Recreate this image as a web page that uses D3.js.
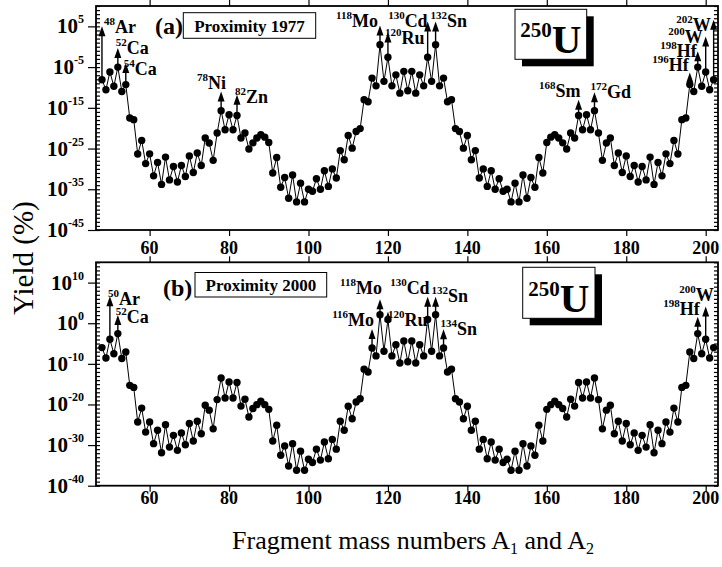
<!DOCTYPE html>
<html>
<head>
<meta charset="utf-8">
<script src="https://cdn.jsdelivr.net/npm/d3@7"></script>
<style>
  body { margin: 0; background: #fff; }
  text { font-family: "Liberation Serif", "Times New Roman", serif; }
</style>
</head>
<body>
<svg id="chart" width="722" height="567"></svg>
<script>
// fragment mass numbers A1 and A2 (every integer from 48 to 202)
var massNumbers = d3.range(48, 203);

// log10 of the yield (%) for each mass number
var logYield1977 = [
  -8.1, -10.55, -6.2, -9.7, -5.0, -11.0, -9.3, -17.5, -17.9, -26.35,
  -23.0, -28.7, -26.3, -31.7, -28.4, -33.8, -27.1, -32.7, -29.4, -33.2,
  -29.15, -31.85, -26.8, -30.9, -26.1, -29.15, -22.4, -23.65, -27.9, -21.2,
  -15.7, -20.4, -16.7, -20.4, -16.9, -22.4, -21.2, -25.1, -23.6, -22.4,
  -21.6, -22.2, -23.5, -31.0, -27.2, -34.5, -32.1, -37.2, -31.5, -38.1,
  -33.5, -38.1, -35.0, -35.5, -32.4, -35.0, -30.45, -34.3, -30.0, -32.25,
  -25.5, -27.75, -21.8, -24.9, -20.8, -20.1, -13.0, -13.5, -7.7, -9.6,
  0.5, -8.5, -2.6, -9.6, -6.9, -11.4, -6.05, -10.8, -6.05, -11.4,
  -6.9, -9.6, -2.6, -8.5, 0.5, -9.6, -7.7, -13.5, -13.0, -20.1,
  -20.8, -24.9, -21.8, -27.75, -25.5, -32.25, -30.0, -34.3, -30.45, -35.0,
  -32.4, -35.5, -35.0, -38.1, -33.5, -38.1, -31.5, -37.2, -32.1, -34.5,
  -27.2, -31.0, -23.5, -22.2, -21.6, -22.4, -23.6, -25.1, -21.2, -22.4,
  -16.9, -20.4, -16.7, -20.4, -15.7, -21.2, -27.9, -23.65, -22.4, -29.15,
  -26.1, -30.9, -26.8, -31.85, -29.15, -33.2, -29.4, -32.7, -27.1, -33.8,
  -28.4, -31.7, -26.3, -28.7, -23.0, -26.35, -17.9, -17.5, -9.3, -11.0,
  -5.0, -9.7, -6.2, -10.55, -8.1
];

var logYield2000 = [
  -6.0, -8.55, -3.95, -7.5, -2.55, -8.7, -7.1, -15.3, -15.8, -24.3,
  -20.9, -26.8, -24.3, -29.65, -26.35, -31.9, -25.0, -30.5, -27.6, -31.3,
  -27.0, -29.9, -24.7, -29.0, -24.15, -27.2, -20.2, -21.4, -26.0, -18.8,
  -13.5, -18.4, -14.45, -18.4, -14.6, -20.4, -18.7, -23.1, -21.0, -20.05,
  -19.2, -20.05, -21.2, -29.0, -25.1, -32.5, -30.2, -35.15, -29.65, -36.2,
  -31.5, -36.2, -33.5, -34.3, -31.0, -33.7, -29.25, -33.35, -28.6, -31.0,
  -24.15, -26.35, -20.45, -23.5, -19.4, -18.6, -11.3, -12.0, -6.1, -8.05,
  2.1, -6.9, 0.9, -8.05, -5.3, -9.8, -4.35, -9.5, -4.35, -9.8,
  -5.3, -8.05, 0.9, -6.9, 2.1, -8.05, -6.1, -12.0, -11.3, -18.6,
  -19.4, -23.5, -20.45, -26.35, -24.15, -31.0, -28.6, -33.35, -29.25, -33.7,
  -31.0, -34.3, -33.5, -36.2, -31.5, -36.2, -29.65, -35.15, -30.2, -32.5,
  -25.1, -29.0, -21.2, -20.05, -19.2, -20.05, -21.0, -23.1, -18.7, -20.4,
  -14.6, -18.4, -14.45, -18.4, -13.5, -18.8, -26.0, -21.4, -20.2, -27.2,
  -24.15, -29.0, -24.7, -29.9, -27.0, -31.3, -27.6, -30.5, -25.0, -31.9,
  -26.35, -29.65, -24.3, -26.8, -20.9, -24.3, -15.8, -15.3, -7.1, -8.7,
  -2.55, -7.5, -3.95, -8.55, -6.0
];

var xTickValues = [60, 80, 100, 120, 140, 160, 180, 200];
var yTickExp1977 = [5, -5, -15, -25, -35, -45];
var yTickExp2000 = [10, 0, -10, -20, -30, -40];

// marked fragments: mass number, symbol, arrow tip (log10 yield)
var peaks1977 = [
  {a: 48, el: 'Ar', tip: 5}, {a: 52, el: 'Ca', tip: -0.3}, {a: 54, el: 'Ca', tip: -4},
  {a: 78, el: 'Ni', tip: -11}, {a: 82, el: 'Zn', tip: -11.8},
  {a: 118, el: 'Mo', tip: 5.2}, {a: 120, el: 'Ru', tip: 3.5},
  {a: 130, el: 'Cd', tip: 6.2}, {a: 132, el: 'Sn', tip: 6.2},
  {a: 168, el: 'Sm', tip: -13}, {a: 172, el: 'Gd', tip: -11.2},
  {a: 196, el: 'Hf', tip: -6.3}, {a: 198, el: 'Hf', tip: -1.1},
  {a: 200, el: 'W', tip: 2.5}, {a: 202, el: 'W', tip: 6.6}
];
var peaks2000 = [
  {a: 50, el: 'Ar', tip: 6.65}, {a: 52, el: 'Ca', tip: 2.0},
  {a: 116, el: 'Mo', tip: -1.4}, {a: 118, el: 'Mo', tip: 5.9}, {a: 120, el: 'Ru', tip: 2.8},
  {a: 130, el: 'Cd', tip: 6.5}, {a: 132, el: 'Sn', tip: 6.5}, {a: 134, el: 'Sn', tip: -1.5},
  {a: 198, el: 'Hf', tip: 1.6}, {a: 200, el: 'W', tip: 4.1}
];

// where each label sits relative to its arrow tip: [anchor, dx, dy]
var labelPlace1977 = {
  48: ['start', 2, 7], 52: ['start', -2, 6], 54: ['start', -2, 12],
  78: ['end', 5, -3], 82: ['start', -2, 8], 118: ['end', -2, 1], 120: ['start', -3, 12],
  130: ['end', 0, 6], 132: ['start', -5, 6], 168: ['end', 2, -3], 172: ['start', -4, 6],
  196: ['end', -1, -1], 198: ['end', -1, 6], 200: ['end', -3, 6], 202: ['end', -3, 11]
};
var labelPlace2000 = {
  50: ['start', -2, 9], 52: ['start', -2, 8], 116: ['end', 2, -3], 118: ['end', 2, -5],
  120: ['start', 0, 14], 130: ['end', 2, -3], 132: ['start', -4, 5], 134: ['start', -3, 6],
  198: ['end', 2, -2], 200: ['end', 8, -6]
};

var svg = d3.select('#chart');
var left = 96, right = 718;
var x = d3.scaleLinear().domain([46.5, 203.1]).range([left, right]);

var panels = [
  {exps: logYield1977, ticks: yTickExp1977, lo: -45, hi: 10, top: 6, bottom: 230, xLabelY: 253.5,
   peaks: peaks1977, place: labelPlace1977, tag: '(a)', tagX: 155, tagY: 34,
   box: [183.3, 12.7, 132.4, 25.6], boxText: 'Proximity 1977',
   nuc: [515, 9.3, 71.7, 50]},
  {exps: logYield2000, ticks: yTickExp2000, lo: -40, hi: 15, top: 262.3, bottom: 485.7, xLabelY: 503.5,
   peaks: peaks2000, place: labelPlace2000, tag: '(b)', tagX: 163, tagY: 296,
   box: [195, 272.5, 131.7, 24.5], boxText: 'Proximity 2000',
   nuc: [522.7, 267.3, 72.3, 51]}
];

panels.forEach(drawPanel);

function drawPanel(p){
  var y = d3.scaleLog().domain([Math.pow(10, p.lo), Math.pow(10, p.hi)]).range([p.bottom, p.top]);
  var g = svg.append('g');
  var decades = d3.range(p.lo, p.hi + 1).map(function(e){ return Math.pow(10, e); });
  var majors = p.ticks.map(function(e){ return Math.pow(10, e); });

  // minor ticks, one per decade, pointing inward on both sides
  g.append('g').attr('transform', 'translate(' + left + ',0)')
    .call(d3.axisLeft(y).tickValues(decades).tickSize(-4).tickFormat(''));
  g.append('g').attr('transform', 'translate(' + right + ',0)')
    .call(d3.axisRight(y).tickValues(decades).tickSize(-4).tickFormat(''));
  // major ticks outward
  g.append('g').attr('transform', 'translate(' + left + ',0)')
    .call(d3.axisLeft(y).tickValues(majors).tickSize(8).tickFormat(''));
  g.append('g').attr('transform', 'translate(0,' + p.bottom + ')')
    .call(d3.axisBottom(x).tickValues(xTickValues).tickSize(6).tickFormat(''));
  g.append('g').attr('transform', 'translate(0,' + p.top + ')')
    .call(d3.axisTop(x).tickValues(xTickValues).tickSize(6).tickFormat(''));
  g.selectAll('.domain').remove();
  g.selectAll('.tick line').attr('stroke', '#000').attr('stroke-width', 1.2);

  // frame
  g.append('rect').attr('x', left).attr('y', p.top)
    .attr('width', right - left).attr('height', p.bottom - p.top)
    .attr('fill', 'none').attr('stroke', '#000').attr('stroke-width', 1.8);

  // y tick labels 10^n
  var yl = g.selectAll('.ylab').data(p.ticks).enter().append('text')
    .attr('x', 84).attr('y', function(d){ return y(Math.pow(10, d)) + 7; })
    .attr('text-anchor', 'end').attr('font-weight', 'bold');
  yl.append('tspan').attr('font-size', 21).text('10');
  yl.append('tspan').attr('font-size', 12).attr('dy', -10).text(function(d){ return d; });

  // x tick labels
  g.selectAll('.xlab').data(xTickValues).enter().append('text')
    .attr('x', function(d){ return x(d); }).attr('y', p.xLabelY)
    .attr('text-anchor', 'middle').attr('font-weight', 'bold').attr('font-size', 18)
    .text(function(d){ return d; });

  // data
  var pts = massNumbers.map(function(a, i){ return [a, Math.pow(10, p.exps[i])]; });
  g.append('path').datum(pts)
    .attr('d', d3.line().x(function(d){ return x(d[0]); }).y(function(d){ return y(d[1]); }))
    .attr('fill', 'none').attr('stroke', '#000').attr('stroke-width', 1);
  g.selectAll('.pt').data(pts).enter().append('circle')
    .attr('cx', function(d){ return x(d[0]); }).attr('cy', function(d){ return y(d[1]); })
    .attr('r', 3.7).attr('fill', '#000');

  // arrows and nuclide labels
  p.peaks.forEach(function(pk){
    var tx = x(pk.a), ty = y(Math.pow(10, pk.tip));
    var py = y(Math.pow(10, p.exps[massNumbers.indexOf(pk.a)]));
    g.append('line').attr('x1', tx).attr('x2', tx).attr('y1', py).attr('y2', ty + 8)
      .attr('stroke', '#000').attr('stroke-width', 1.4);
    g.append('path')
      .attr('d', 'M' + tx + ',' + ty + 'L' + (tx - 3.5) + ',' + (ty + 10) + 'L' + (tx + 3.5) + ',' + (ty + 10) + 'Z')
      .attr('fill', '#000');
    var pl = p.place[pk.a];
    var t = g.append('text').attr('x', tx + pl[1]).attr('y', ty + pl[2])
      .attr('text-anchor', pl[0]).attr('font-weight', 'bold');
    t.append('tspan').attr('font-size', 11).attr('dy', -8).text(pk.a);
    t.append('tspan').attr('font-size', 18).attr('dy', 8).text(pk.el);
  });

  // panel tag and model box
  g.append('text').attr('x', p.tagX).attr('y', p.tagY)
    .attr('font-weight', 'bold').attr('font-size', 24).text(p.tag);
  g.append('rect').attr('x', p.box[0]).attr('y', p.box[1])
    .attr('width', p.box[2]).attr('height', p.box[3])
    .attr('fill', '#fff').attr('stroke', '#000').attr('stroke-width', 1);
  g.append('text').attr('x', p.box[0] + p.box[2] / 2).attr('y', p.box[1] + p.box[3] / 2 + 6)
    .attr('text-anchor', 'middle').attr('font-weight', 'bold').attr('font-size', 17)
    .text(p.boxText);

  // 250U box with shadow
  g.append('rect').attr('x', p.nuc[0] + 7).attr('y', p.nuc[1] + 7)
    .attr('width', p.nuc[2]).attr('height', p.nuc[3]).attr('fill', '#000');
  g.append('rect').attr('x', p.nuc[0]).attr('y', p.nuc[1])
    .attr('width', p.nuc[2]).attr('height', p.nuc[3])
    .attr('fill', '#fff').attr('stroke', '#000').attr('stroke-width', 1);
  var u = g.append('text').attr('x', p.nuc[0] + p.nuc[2] / 2).attr('y', p.nuc[1] + p.nuc[3] - 6)
    .attr('text-anchor', 'middle').attr('font-weight', 'bold');
  u.append('tspan').attr('font-size', 21).attr('dy', -16).text('250');
  u.append('tspan').attr('font-size', 41).attr('dy', 16).text('U');
}

// axis titles
svg.append('text').attr('transform', 'translate(33,258) rotate(-90)')
  .attr('text-anchor', 'middle').attr('font-size', 29).text('Yield (%)');

var xt = svg.append('text').attr('x', 413).attr('y', 549)
  .attr('text-anchor', 'middle').attr('font-size', 26);
xt.append('tspan').text('Fragment mass numbers A');
xt.append('tspan').attr('font-size', 16).attr('dy', 5).text('1');
xt.append('tspan').attr('dy', -5).text(' and A');
xt.append('tspan').attr('font-size', 16).attr('dy', 5).text('2');
</script>
</body>
</html>
